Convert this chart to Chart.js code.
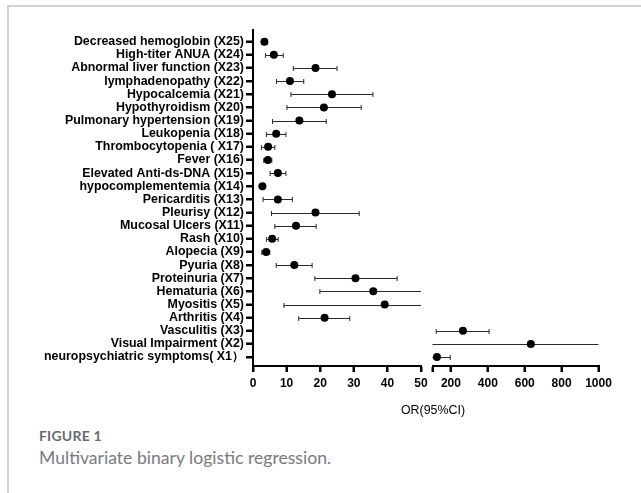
<!DOCTYPE html>
<html><head><meta charset="utf-8">
<script src="https://cdn.jsdelivr.net/npm/chart.js@4.4.1/dist/chart.umd.min.js"></script>
<style>
html,body{margin:0;padding:0;background:#fff;width:641px;height:493px;overflow:hidden;}
#frame{position:absolute;left:7px;top:5px;width:640px;height:495px;border-left:2px solid #d2d2d6;border-top:2px solid #d2d2d6;}
#c{position:absolute;left:0;top:0;}
#axes{position:absolute;left:0;top:0;width:641px;height:398px;pointer-events:none;}
#axes div{position:absolute;background:#000;}
#xt{position:absolute;left:333px;width:200px;top:403px;line-height:14px;text-align:center;font:12.4px "Liberation Sans",Arial,sans-serif;color:#000;}
#fig{position:absolute;left:39px;top:427px;font:bold 14px Lato,"Open Sans",sans-serif;color:#6a6a74;letter-spacing:0.2px;}
#cap{position:absolute;left:39px;top:447px;font:17.6px Lato,"Open Sans",sans-serif;color:#7a7a80;}
</style></head>
<body>
<div id="frame"></div>
<canvas id="c" width="641" height="398"></canvas>
<div id="axes"></div>
<div id="xt">OR(95%CI)</div>
<div id="fig">FIGURE 1</div>
<div id="cap">Multivariate binary logistic regression.</div>
<script>
// Rows from bottom (X1) to top (X25)
const categories = [
  'neuropsychiatric symptoms( X1\uFF09',
  'Visual Impairment (X2)',
  'Vasculitis (X3)',
  'Arthritis (X4)',
  'Myositis (X5)',
  'Hematuria (X6)',
  'Proteinuria (X7)',
  'Pyuria (X8)',
  'Alopecia (X9)',
  'Rash (X10)',
  'Mucosal Ulcers (X11)',
  'Pleurisy (X12)',
  'Pericarditis (X13)',
  'hypocomplementemia (X14)',
  'Elevated Anti-ds-DNA (X15)',
  'Fever (X16)',
  'Thrombocytopenia ( X17)',
  'Leukopenia (X18)',
  'Pulmonary hypertension (X19)',
  'Hypothyroidism (X20)',
  'Hypocalcemia (X21)',
  'lymphadenopathy (X22)',
  'Abnormal liver function (X23)',
  'High-titer ANUA (X24)',
  'Decreased hemoglobin (X25)'
];
const orValues = [124, 633, 265, 21.3, 39.2, 35.8, 30.5, 12.3, 3.9, 5.7, 12.8, 18.6, 7.4, 2.8, 7.4, 4.4, 4.5, 6.9, 13.8, 21.1, 23.5, 11.0, 18.6, 6.2, 3.4];
const ciLower  = [85, 65, 120, 13.6, 9.2, 19.9, 18.4, 6.9, 2.6, 4.0, 6.5, 5.5, 3.0, 2.0, 5.1, 3.2, 2.5, 4.0, 5.8, 10.1, 11.3, 7.0, 12.0, 3.7, 2.6];
const ciUpper  = [196, 1500, 407, 28.8, 75, 65, 42.9, 17.6, 5.0, 7.5, 18.8, 31.6, 11.7, 3.6, 9.8, 5.6, 6.5, 9.8, 21.8, 32.2, 35.7, 15.1, 25.0, 9.0, 4.2];
const leftTicks = [0, 10, 20, 30, 40, 50];
const rightTicks = [100, 200, 400, 600, 800, 1000];
const rightTickLabels = ['', '200', '400', '600', '800', '1000'];
const leftMin = 0, leftMax = 50, rightMin = 100, rightMax = 1000;

const FONT = '"Liberation Sans", Arial, sans-serif';

const leftData = [], rightData = [];
orValues.forEach((v, i) => {
  (v <= leftMax ? leftData : rightData).push({x: v, y: i + 1});
});

function seg(ctx, x1, y1, x2, y2, w, color) {
  ctx.save();
  ctx.setLineDash([]);
  ctx.lineWidth = w;
  ctx.strokeStyle = color;
  ctx.beginPath();
  ctx.moveTo(x1, y1);
  ctx.lineTo(x2, y2);
  ctx.stroke();
  ctx.restore();
}

const errorBars = {
  id: 'errorBars',
  beforeDatasetsDraw(chart) {
    const ctx = chart.ctx, ys = chart.scales.y;
    ['x', 'x2'].forEach(id => {
      const s = chart.scales[id];
      const min = s.min, max = s.max;
      categories.forEach((c, i) => {
        const lo = ciLower[i], hi = ciUpper[i];
        if (hi < min || lo > max) return;
        const py = Math.round(ys.getPixelForValue(i + 1)) + 0.5;
        const a = s.getPixelForValue(Math.max(lo, min));
        const b = s.getPixelForValue(Math.min(hi, max));
        seg(ctx, a, py, b, py, 1, '#2a2a2a');
        if (lo >= min) seg(ctx, a, py - 2.5, a, py + 2.5, 1, '#2a2a2a');
        if (hi <= max) seg(ctx, b, py - 2.5, b, py + 2.5, 1, '#2a2a2a');
      });
    });
  }
};

const tickFont = {family: FONT, size: 12, weight: 'bold'};
const xGrid = {display: true, drawOnChartArea: false, drawTicks: true, tickLength: 6, tickWidth: 2, tickColor: '#000'};
const yGrid = {display: true, drawOnChartArea: false, drawTicks: true, tickLength: 7, tickWidth: 2, tickColor: '#000'};
const borderOpts = {display: true, color: '#000', width: 2};

const chart = new Chart(document.getElementById('c'), {
  type: 'scatter',
  data: {
    datasets: [
      {data: leftData, xAxisID: 'x', yAxisID: 'y', pointRadius: 4, pointBackgroundColor: '#000', pointBorderWidth: 0},
      {data: rightData, xAxisID: 'x2', yAxisID: 'y', pointRadius: 4, pointBackgroundColor: '#000', pointBorderWidth: 0}
    ]
  },
  options: {
    responsive: false,
    animation: false,
    events: [],
    layout: {padding: {top: 30, right: 42.5, bottom: 0, left: 0}},
    plugins: {legend: {display: false}, tooltip: {enabled: false}},
    scales: {
      x: {
        type: 'linear', position: 'bottom', stack: 'xs', stackWeight: 168,
        min: leftMin, max: leftMax,
        afterBuildTicks: s => { s.ticks = leftTicks.map(v => ({value: v})); },
        afterFit: s => { s.height = 32; },
        grid: xGrid, border: borderOpts,
        ticks: {color: '#000', font: tickFont, padding: 4, maxRotation: 0, autoSkip: false}
      },
      xg: {
        type: 'linear', position: 'bottom', stack: 'xs', stackWeight: 11.5,
        min: 0, max: 1,
        afterFit: s => { s.height = 32; },
        grid: {display: false}, border: {display: false}, ticks: {display: false}
      },
      x2: {
        type: 'linear', position: 'bottom', stack: 'xs', stackWeight: 166,
        min: rightMin, max: rightMax,
        afterBuildTicks: s => { s.ticks = rightTicks.map(v => ({value: v})); },
        afterFit: s => { s.height = 32; },
        grid: xGrid, border: borderOpts,
        ticks: {color: '#000', font: tickFont, padding: 4, maxRotation: 0, autoSkip: false,
          callback: (v) => rightTickLabels[rightTicks.indexOf(v)]}
      },
      y: {
        type: 'linear', position: 'left',
        min: 0.32, max: 25.89,
        afterBuildTicks: s => { s.ticks = categories.map((c, i) => ({value: i + 1})); },
        afterFit: s => { s.width = 253; },
        grid: yGrid, border: borderOpts,
        ticks: {color: '#000', font: {family: FONT, size: 12.4, weight: 'bold'}, padding: 2, autoSkip: false,
          callback: (v) => categories[v - 1]}
      }
    }
  },
  plugins: [errorBars]
});

// Axis lines and tick marks as an overlay, positioned from the chart's own scales
(function drawAxesOverlay() {
  const box = document.getElementById('axes');
  const ca = chart.chartArea, ys = chart.scales.y;
  const add = (l, t, w, h) => {
    const d = document.createElement('div');
    d.style.left = l + 'px'; d.style.top = t + 'px'; d.style.width = w + 'px'; d.style.height = h + 'px';
    box.appendChild(d);
  };
  const left = Math.round(ca.left), bottom = Math.round(ca.bottom), top = Math.round(ca.top);
  add(left - 1, top, 2, bottom - top + 1);
  categories.forEach((c, i) => {
    const py = Math.round(ys.getPixelForValue(i + 1));
    add(left - 7, py - 1, 7, 2);
  });
  [['x', leftTicks], ['x2', rightTicks]].forEach(([id, tks]) => {
    const s = chart.scales[id];
    const x1 = Math.round(s.getPixelForValue(s.min)), x2 = Math.round(s.getPixelForValue(s.max));
    add(x1 - 1, bottom - 1, x2 - x1 + 2, 2);
    tks.forEach(v => {
      const px = Math.round(s.getPixelForValue(v));
      add(px - 1, bottom, 2, 6);
    });
  });
})();
</script>
</body></html>
